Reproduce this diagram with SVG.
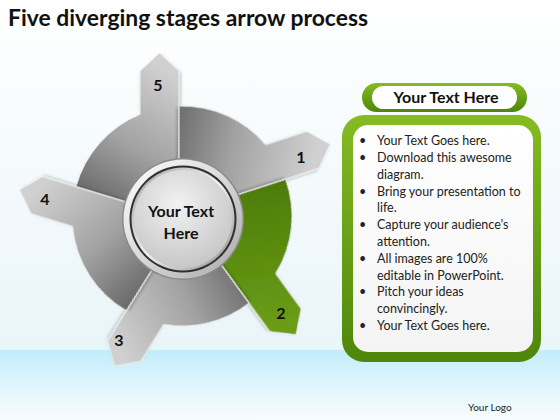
<svg xmlns="http://www.w3.org/2000/svg" width="560" height="420" viewBox="0 0 560 420">
<defs>
<linearGradient id="bg" x1="0" y1="0" x2="0" y2="1">
<stop offset="0" stop-color="#ffffff"/>
<stop offset="1" stop-color="#e9f5f9"/>
</linearGradient>
<linearGradient id="band" x1="0" y1="0" x2="0" y2="1">
<stop offset="0" stop-color="#c3ecfb"/>
<stop offset="0.7" stop-color="#eaf8fd"/>
<stop offset="1" stop-color="#f7fcfe"/>
</linearGradient>
<linearGradient id="gray" gradientUnits="userSpaceOnUse" x1="-100" y1="-20" x2="-25" y2="-150">
<stop offset="0" stop-color="#676767"/>
<stop offset="0.45" stop-color="#a2a2a2"/>
<stop offset="1" stop-color="#d0d0d0"/>
</linearGradient>
<linearGradient id="green" gradientUnits="userSpaceOnUse" x1="-100" y1="-20" x2="-25" y2="-150">
<stop offset="0" stop-color="#4b7a08"/>
<stop offset="1" stop-color="#6a9c16"/>
</linearGradient>
<linearGradient id="greenV" x1="0" y1="0" x2="0" y2="1">
<stop offset="0" stop-color="#86bb22"/>
<stop offset="1" stop-color="#4e860b"/>
</linearGradient>
<linearGradient id="boxFill" x1="0" y1="0" x2="0" y2="1">
<stop offset="0" stop-color="#ffffff"/>
<stop offset="1" stop-color="#f4f4f4"/>
</linearGradient>
<linearGradient id="ring" x1="0" y1="0" x2="1" y2="1">
<stop offset="0" stop-color="#ffffff"/>
<stop offset="0.5" stop-color="#d8d8d8"/>
<stop offset="1" stop-color="#a8a8a8"/>
</linearGradient>
<linearGradient id="ring2" x1="0" y1="0" x2="1" y2="1">
<stop offset="0" stop-color="#a0a0a0"/>
<stop offset="0.5" stop-color="#f0f0f0"/>
<stop offset="1" stop-color="#8c8c8c"/>
</linearGradient>
<radialGradient id="disc" cx="0.45" cy="0.35" r="0.7">
<stop offset="0" stop-color="#f2f2f2"/>
<stop offset="1" stop-color="#c4c4c4"/>
</radialGradient>
<filter id="sh" x="-20%" y="-20%" width="140%" height="140%">
<feDropShadow dx="1" dy="2" stdDeviation="1.5" flood-color="#000" flood-opacity="0.3"/>
</filter>
</defs>
<style>
.seg{stroke:#f2f2f2;stroke-width:1;stroke-linejoin:round;filter:url(#sh)}
.num{font-family:Lato,"Liberation Sans",sans-serif;font-weight:bold;font-size:16px;fill:#111;text-anchor:middle}
.ctr{font-family:Lato,"Liberation Sans",sans-serif;font-weight:bold;font-size:16px;fill:#111;text-anchor:middle}
.bl{font-family:Lato,"Liberation Sans",sans-serif;font-size:12.5px;fill:#222}
</style>
<rect x="0" y="0" width="560" height="350" fill="url(#bg)"/>
<rect x="0" y="350" width="560" height="70" fill="url(#band)"/>
<text x="8" y="26" font-family="Lato,'Liberation Sans',sans-serif" font-weight="bold" font-size="22" fill="#111" textLength="360" lengthAdjust="spacingAndGlyphs">Five diverging stages arrow process</text>

<g id="wheel" transform="translate(182,216)">
<g id="node-5" transform="rotate(0)">
<path class="seg" fill="url(#gray)" d="M-3,-50 L-3,-145 L-22.5,-163 L-42,-145 L-42,-101.7 A110,110 0 0 0 -106.07,-29.29 L-48.69,-11.75 Z"/>
</g>
<g id="node-1" transform="rotate(72)">
<path class="seg" fill="url(#gray)" d="M-3,-50 L-3,-145 L-22.5,-163 L-42,-145 L-42,-101.7 A110,110 0 0 0 -105.55,-31.14 L-48.48,-12.6 Z"/>
</g>
<g id="node-2" transform="rotate(144)">
<path class="seg" fill="url(#green)" d="M-3,-50 L-3,-145 L-22.5,-163 L-42,-145 L-42,-101.7 A110,110 0 0 0 -105.55,-31.14 L-48.48,-12.6 Z"/>
</g>
<g id="node-3" transform="rotate(212)">
<path class="seg" fill="url(#gray)" d="M-3,-50 L-3,-145 L-22.5,-163 L-42,-145 L-42,-101.7 A110,110 0 0 0 -103.11,-38.43 L-47.48,-15.95 Z"/>
</g>
<g id="node-4" transform="rotate(287)">
<path class="seg" fill="url(#gray)" d="M-3,-50 L-3,-145 L-22.5,-163 L-42,-145 L-42,-101.7 A110,110 0 0 0 -107.03,-25.57 L-49.08,-10.04 Z"/>
</g>
</g>
<g id="labels">
<text class="num" x="301" y="163">1</text>
<text class="num" x="281" y="319">2</text>
<text class="num" x="119" y="346">3</text>
<text class="num" x="45" y="205">4</text>
<text class="num" x="158" y="91">5</text>
</g>
<g id="center">
<circle cx="183" cy="219" r="61" fill="#8a8a8a"/>
<circle cx="183" cy="219" r="59.5" fill="url(#ring)"/>
<circle cx="183" cy="219" r="53.5" fill="#2f2f2f"/>
<circle cx="183" cy="219" r="51.5" fill="url(#ring2)"/>
<circle cx="183" cy="219" r="49" fill="url(#disc)"/>
<text class="ctr" x="181" y="217">Your Text</text>
<text class="ctr" x="181" y="239">Here</text>
</g>
<g id="header">
<rect x="362" y="83" width="165" height="29" rx="14.5" fill="url(#greenV)"/>
<rect x="372" y="86" width="145" height="23" rx="11.5" fill="#ffffff"/>
<text x="446" y="103" font-family="Lato,'Liberation Sans',sans-serif" font-weight="bold" font-size="16" fill="#111" text-anchor="middle">Your Text Here</text>
</g>
<g id="textbox">
<rect x="342" y="115" width="199" height="247" rx="22" fill="url(#greenV)"/>
<rect x="353" y="125" width="180" height="227" rx="15" fill="url(#boxFill)"/>
<g class="bl">
<text x="359" y="145">•</text>
<text x="377" y="145">Your Text Goes here.</text>
<text x="359" y="162">•</text>
<text x="377" y="162">Download this awesome</text>
<text x="377" y="179">diagram.</text>
<text x="359" y="196">•</text>
<text x="377" y="196">Bring your presentation to</text>
<text x="377" y="212">life.</text>
<text x="359" y="229">•</text>
<text x="377" y="229">Capture your audience’s</text>
<text x="377" y="246">attention.</text>
<text x="359" y="263">•</text>
<text x="377" y="263">All images are 100%</text>
<text x="377" y="280">editable in PowerPoint.</text>
<text x="359" y="296">•</text>
<text x="377" y="296">Pitch your ideas</text>
<text x="377" y="313">convincingly.</text>
<text x="359" y="330">•</text>
<text x="377" y="330">Your Text Goes here.</text>
</g>
</g>
<text x="468" y="411" font-family="Lato,'Liberation Sans',sans-serif" font-size="10" fill="#222">Your Logo</text>
</svg>
